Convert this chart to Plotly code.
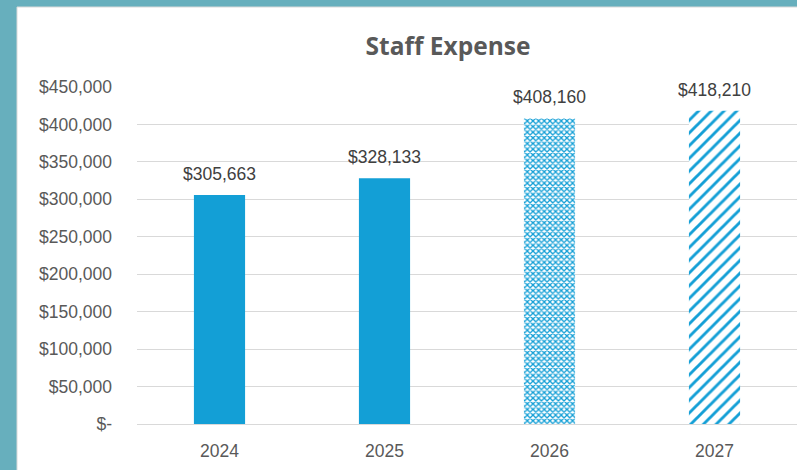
import plotly.graph_objects as go

years = [2024, 2025, 2026, 2027]
expense = [305663, 328133, 408160, 418210]
labels = ["$305,663", "$328,133", "$408,160", "$418,210"]
shapes_pat = ["", "", "x", "/"]
tick_vals = [0, 50000, 100000, 150000, 200000, 250000, 300000, 350000, 400000, 450000]
tick_text = ["$-", "$50,000", "$100,000", "$150,000", "$200,000", "$250,000",
             "$300,000", "$350,000", "$400,000", "$450,000"]

BLUE = "#139FD6"
TEAL = "#67AFBD"
FONT = "Liberation Sans"

W, H = 797, 470
L, R, T, B = 137, 0, 87, 46
pw, ph = W - L - R, H - T - B

fig = go.Figure()
fig.add_trace(go.Bar(
    x=years, y=expense,
    marker=dict(color=BLUE, line=dict(width=0),
                pattern=dict(shape=shapes_pat, fgcolor=BLUE, bgcolor="white",
                             size=[8, 8, 4, 9], solidity=[0.3, 0.3, 0.55, 0.32],
                             fillmode="replace")),
    width=0.31, hoverinfo="skip",
))

annotations = [dict(x=yr, y=v, text=t, showarrow=False, xref="x", yref="y",
                    yanchor="middle", yshift=21,
                    font=dict(family=FONT, size=17.5, color="#404040"))
               for yr, v, t in zip(years, expense, labels)]

fig.update_layout(
    width=W, height=H,
    margin=dict(l=L, r=R, t=T, b=B),
    paper_bgcolor=TEAL, plot_bgcolor="white",
    showlegend=False,
    title=dict(text="<b>Staff Expense</b>", x=448 / W, xanchor="center",
               y=1 - 46 / H, yanchor="middle", xref="container", yref="container",
               font=dict(family="Open Sans", size=24.5, color="#595959")),
    shapes=[dict(type="rect", xref="paper", yref="paper",
                 x0=(17 - L) / pw, x1=1.05, y0=-(B + 10) / ph,
                 y1=(H - B - 7) / ph,
                 fillcolor="white", line=dict(color="#D9D9D9", width=1), layer="below")],
    annotations=annotations,
)
fig.update_yaxes(range=[0, 450000], tickvals=tick_vals, ticktext=tick_text,
                 showgrid=True, gridcolor="#D9D9D9", gridwidth=1,
                 zeroline=True, zerolinecolor="#D9D9D9", zerolinewidth=1,
                 ticks="", ticklabelstandoff=24,
                 tickfont=dict(family=FONT, size=17.5, color="#595959"))
fig.update_xaxes(type="linear", range=[years[0] - 0.5, years[-1] + 0.5],
                 tickvals=years, tickformat="d",
                 showgrid=False, ticks="", showline=False, zeroline=False,
                 ticklabelstandoff=14,
                 tickfont=dict(family=FONT, size=17.5, color="#595959"))

fig.write_html("out.html", config={"displayModeBar": False},
               post_script="document.body.style.margin='0';document.body.style.background='#67AFBD';")
